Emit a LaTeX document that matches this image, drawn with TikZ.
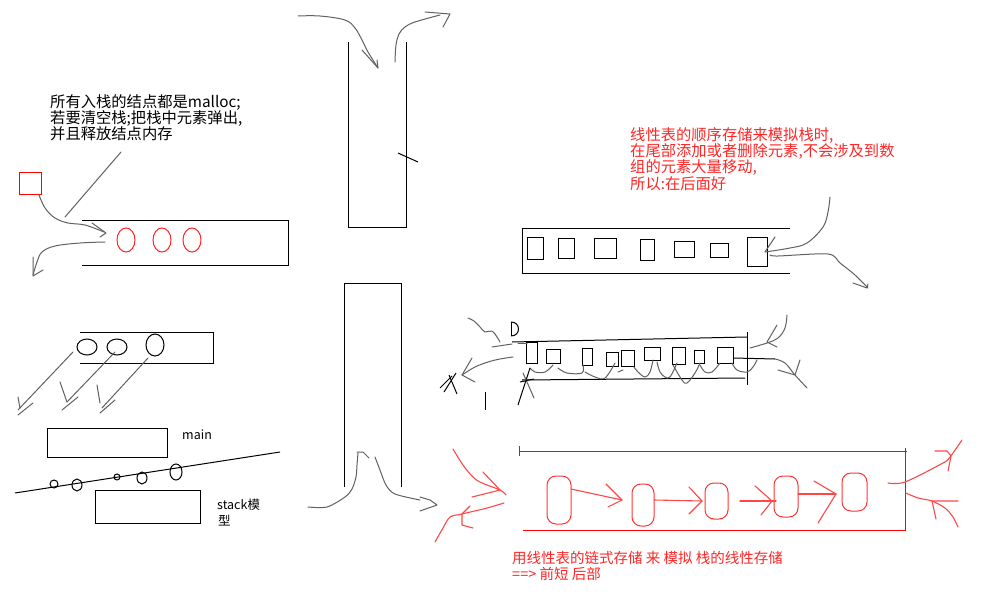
\documentclass[tikz,border=0pt]{standalone}
\usepackage{fontspec}
\newfontfamily\cjk{Noto Sans CJK SC}
\begin{document}
\begin{tikzpicture}[x=1pt,y=-1pt,
  blk/.style={draw=black, line width=1pt},
  gry/.style={draw=black!62, line width=1pt, line join=round, line cap=round},
  redb/.style={draw=red, line width=1pt},
  redh/.style={draw=red!72, line width=1.1pt, line join=round, line cap=round},
  oval/.style={draw=red!80, line width=1pt, rounded corners=9pt},
  txt/.style={anchor=north west, inner sep=0pt, align=left, font=\cjk\fontsize{15.3}{16.4}\selectfont},
  txtb/.style={anchor=north west, inner sep=0pt, align=left, font=\cjk\fontsize{14.5}{16.2}\selectfont},
  small/.style={anchor=base west, inner sep=0pt, font=\cjk\fontsize{12.5}{14}\selectfont}]
\useasboundingbox (0,0) rectangle (1007,605);
\fill[white] (0,0) rectangle (1007,605);

% ---------- top left ----------
\node[txt] (note1) at (50,94) {所有入栈的结点都是malloc;\\若要清空栈;把栈中元素弹出,\\并且释放结点内存};
\draw[redb] (19,172) rectangle (41,194);
\draw[gry] (121,152) -- (65,217);
\draw[blk] (82,220) -- (288,220) -- (288,265) -- (82,265);
\foreach \x in {126,162,192} \draw[draw=red!85, line width=1pt] (\x,240) ellipse (9 and 12);
\draw[gry] plot[smooth, tension=0.6] coordinates {(39,195) (45,208) (55,218) (68,223) (85,225) (104,232)};
\draw[gry] (92,223) -- (106,233) -- (100,237);
\draw[gry] plot[smooth, tension=0.6] coordinates {(105,242) (80,243) (55,246) (42,252) (37,262) (33,275)};
\draw[gry] (33,257) -- (33,276) -- (43,270);

% ---------- middle left ----------
\draw[blk] (80,332) -- (213,332) -- (213,363) -- (80,363);
\draw[blk] (87,347) ellipse (10 and 8);
\draw[blk] (117,347) ellipse (10 and 8);
\draw[blk] (155,345) ellipse (9 and 11);
\draw[gry] (73,352) -- (18,410);
\draw[gry] (18,397) -- (20,408);
\draw[gry] (18,415) -- (33,403);
\draw[gry] (115,352) -- (67,402);
\draw[gry] (60,382) -- (67,402);
\draw[gry] (62,410) -- (78,397);
\draw[gry] (148,358) -- (102,408);
\draw[gry] (97,385) -- (100,403);
\draw[gry] (100,413) -- (115,400);

% ---------- bottom left ----------
\draw[blk] (47,428) rectangle (167,457);
\node[small] (mainlbl) at (182,439.5) {main};
\draw[blk] (15,493) -- (280,452);
\draw[blk] (54,484) ellipse (4 and 4);
\draw[blk] (77,485) ellipse (5 and 6);
\draw[blk] (117,477) ellipse (3 and 3);
\draw[blk] (142,478) ellipse (5 and 6);
\draw[blk] (176,472) ellipse (6 and 8);
\draw[blk] (95,490) rectangle (200,523);
\node[small] (stacklbl) at (217,509) {stack模};
\node[small] (stacklbl2) at (218,525) {型};

% ---------- top tall box ----------
\draw[blk] (348,42) -- (348,227) -- (406,227) -- (406,42);
\draw[blk] (398,153) -- (418,162);
\draw[gry] plot[smooth, tension=0.6] coordinates {(298,16) (320,16) (345,20) (355,28) (362,40) (368,52) (378,68)};
\draw[gry] (362,50) -- (378,68) -- (377,60);
\draw[gry] plot[smooth, tension=0.6] coordinates {(395,62) (396,45) (399,34) (405,27) (415,22) (440,15)};
\draw[gry] (425,12) -- (450,14) -- (443,27);

% ---------- bottom tall box ----------
\draw[blk] (344,487) -- (344,283) -- (401,283) -- (401,487);
\draw[gry] plot[smooth, tension=0.5] coordinates {(308,507) (327,507) (345,497) (352,489) (356,477) (357,465) (358,453)};
\draw[gry] (357,452) -- (363,452) -- (369,458);
\draw[gry] plot[smooth, tension=0.5] coordinates {(375,457) (380,470) (386,485) (395,494) (420,500)};
\draw[gry] (420,497) -- (430,500) -- (437,505) -- (420,511);

% ---------- right top: sequential ----------
\node[txt, text=red!85] (note2) at (630,127) {线性表的顺序存储来模拟栈时,\\在尾部添加或者删除元素,不会涉及到数\\组的元素大量移动,\\所以:在后面好};
\draw[blk] (790,228) -- (522,228) -- (522,273) -- (790,273);
\draw[blk] (527,237) rectangle (543,259);
\draw[blk] (558,238) rectangle (574,258);
\draw[blk] (594,238) rectangle (616,258);
\draw[blk] (640,239) rectangle (654,260);
\draw[blk] (674,241) rectangle (694,257);
\draw[blk] (710,243) rectangle (728,257);
\draw[blk] (747,237) rectangle (767,266);
\draw[gry] plot[smooth, tension=0.6] coordinates {(830,197) (828,212) (823,227) (807,243) (790,248) (765,252)};
\draw[gry] (775,237) -- (765,252);
\draw[gry] plot[smooth, tension=0.5] coordinates {(770,255) (778,256) (828,254) (840,263) (855,275) (868,288)};
\draw[gry] (853,283) -- (867,288) -- (868,284);

% ---------- right middle: linked in array ----------
\draw[blk] (512,342) -- (747,337);
\draw[blk] (522,380) -- (745,378);
\draw[blk] (747,332) -- (747,385);
\draw[blk] (526,342) rectangle (537,363);
\draw[blk] (546,349) rectangle (560,363);
\draw[blk] (582,348) rectangle (592,365);
\draw[blk] (606,352) rectangle (618,366);
\draw[blk] (621,350) rectangle (634,366);
\draw[blk] (644,347) rectangle (660,360);
\draw[blk] (672,347) rectangle (685,364);
\draw[blk] (694,350) rectangle (704,363);
\draw[blk] (717,347) rectangle (733,363);
\draw[gry] plot[smooth, tension=0.6] coordinates {(530,368) (535,372) (545,372) (553,365)};
\draw[gry] plot[smooth, tension=0.6] coordinates {(558,368) (567,373) (582,373) (583,365)};
\draw[gry] plot[smooth, tension=0.6] coordinates {(585,372) (595,377) (605,378) (615,363)};
\draw[gry] (618,372) -- (623,370);
\draw[gry] plot[smooth, tension=0.6] coordinates {(634,367) (638,372) (645,377) (650,372) (653,360)};
\draw[gry] plot[smooth, tension=0.6] coordinates {(657,362) (660,372) (665,377) (670,377) (677,363)};
\draw[gry] plot[smooth, tension=0.6] coordinates {(673,365) (682,380) (687,383) (695,373) (700,363)};
\draw[gry] plot[smooth, tension=0.6] coordinates {(700,365) (705,372) (712,372) (720,363)};
\draw[gry] plot[smooth, tension=0.6] coordinates {(732,363) (737,370) (747,372) (753,367) (757,360)};
% right arrows
\draw[blk] (733,358) -- (775,359);
\draw[gry] plot[smooth, tension=0.6] coordinates {(775,359) (785,363) (795,375) (807,388)};
\draw[gry] (778,370) -- (795,375) -- (800,360);
\draw[gry] plot[smooth, tension=0.6] coordinates {(787,315) (785,328) (778,338) (767,343) (750,348)};
\draw[gry] (777,325) -- (767,342) -- (777,347);
% left arrows
\draw[blk] (511,322) -- (511,336);
\draw[blk] (511,322) .. controls (521,322) and (521,336) .. (511,336);
\draw[gry] plot[smooth, tension=0.6] coordinates {(468,318) (474,321) (480,327) (485,332) (492,331) (497,337) (500,342)};
\draw[gry] (492,347) -- (512,344);
\draw[gry] (518,343) -- (527,343);
\draw[gry] plot[smooth, tension=0.6] coordinates {(513,357) (500,359) (488,362) (475,367) (462,375)};
\draw[gry] (472,358) -- (462,375) -- (475,382);
\draw[blk] (444,392) -- (456,373);
\draw[blk] (449,375) -- (457,394);
\draw[blk] (440,388) -- (452,376);
\draw[blk] (485,392) -- (485,410);
\draw[blk] (530,368) -- (518,405);
\draw[gry] (523,373) -- (534,398);
\draw[blk] (520,382) -- (534,379);

% ---------- bottom right: linked ----------
\draw[redb] (519,451) -- (907,451);
\draw[redb] (519,446) -- (519,456);
\draw[redb] (905,448) -- (905,530);
\draw[redb] (523,530) -- (906,530);
\draw[oval] (547,476) rectangle (571,524);
\draw[oval] (632,484) rectangle (654,526);
\draw[oval] (705,483) rectangle (728,519);
\draw[oval] (774,476) rectangle (798,517);
\draw[oval] (842,473) rectangle (867,511);
\draw[redh] (571,489) -- (622,500);
\draw[redh] (606,484) -- (622,500) -- (608,507);
\draw[redh] (654,500) -- (702,501);
\draw[redh] (689,487) -- (702,501) -- (689,514);
\draw[redh] (740,501) -- (776,501);
\draw[redh] (755,486) -- (772,501) -- (761,515);
\draw[redh] (798,494) -- (836,494);
\draw[redh] (814,481) -- (836,494) -- (818,523);
% left red arrows
\draw[redh] plot[smooth, tension=0.6] coordinates {(453,449) (463,465) (473,477) (482,483) (500,490) (506,495)};
\draw[redh] (483,472) -- (500,490) -- (472,497);
\draw[redh] plot[smooth, tension=0.5] coordinates {(504,503) (487,508) (462,514) (450,517) (443,528) (435,542)};
\draw[redh] (470,506) -- (462,514) -- (462,525) -- (473,528);
% right red arrows
\draw[redh] plot[smooth, tension=0.5] coordinates {(888,483) (905,482) (943,463) (950,457) (962,440)};
\draw[redh] (935,451) -- (947,451) -- (951,456) -- (948,471);
\draw[redh] plot[smooth, tension=0.5] coordinates {(958,527) (953,517) (945,508) (932,501) (918,498) (906,493)};
\draw[redh] (958,501) -- (932,501) -- (936,519);
\node[txtb, text=red!85] (note3) at (512,551) {用线性表的链式存储 来 模拟 栈的线性存储\\==> 前短 后部};
\end{tikzpicture}
\end{document}
